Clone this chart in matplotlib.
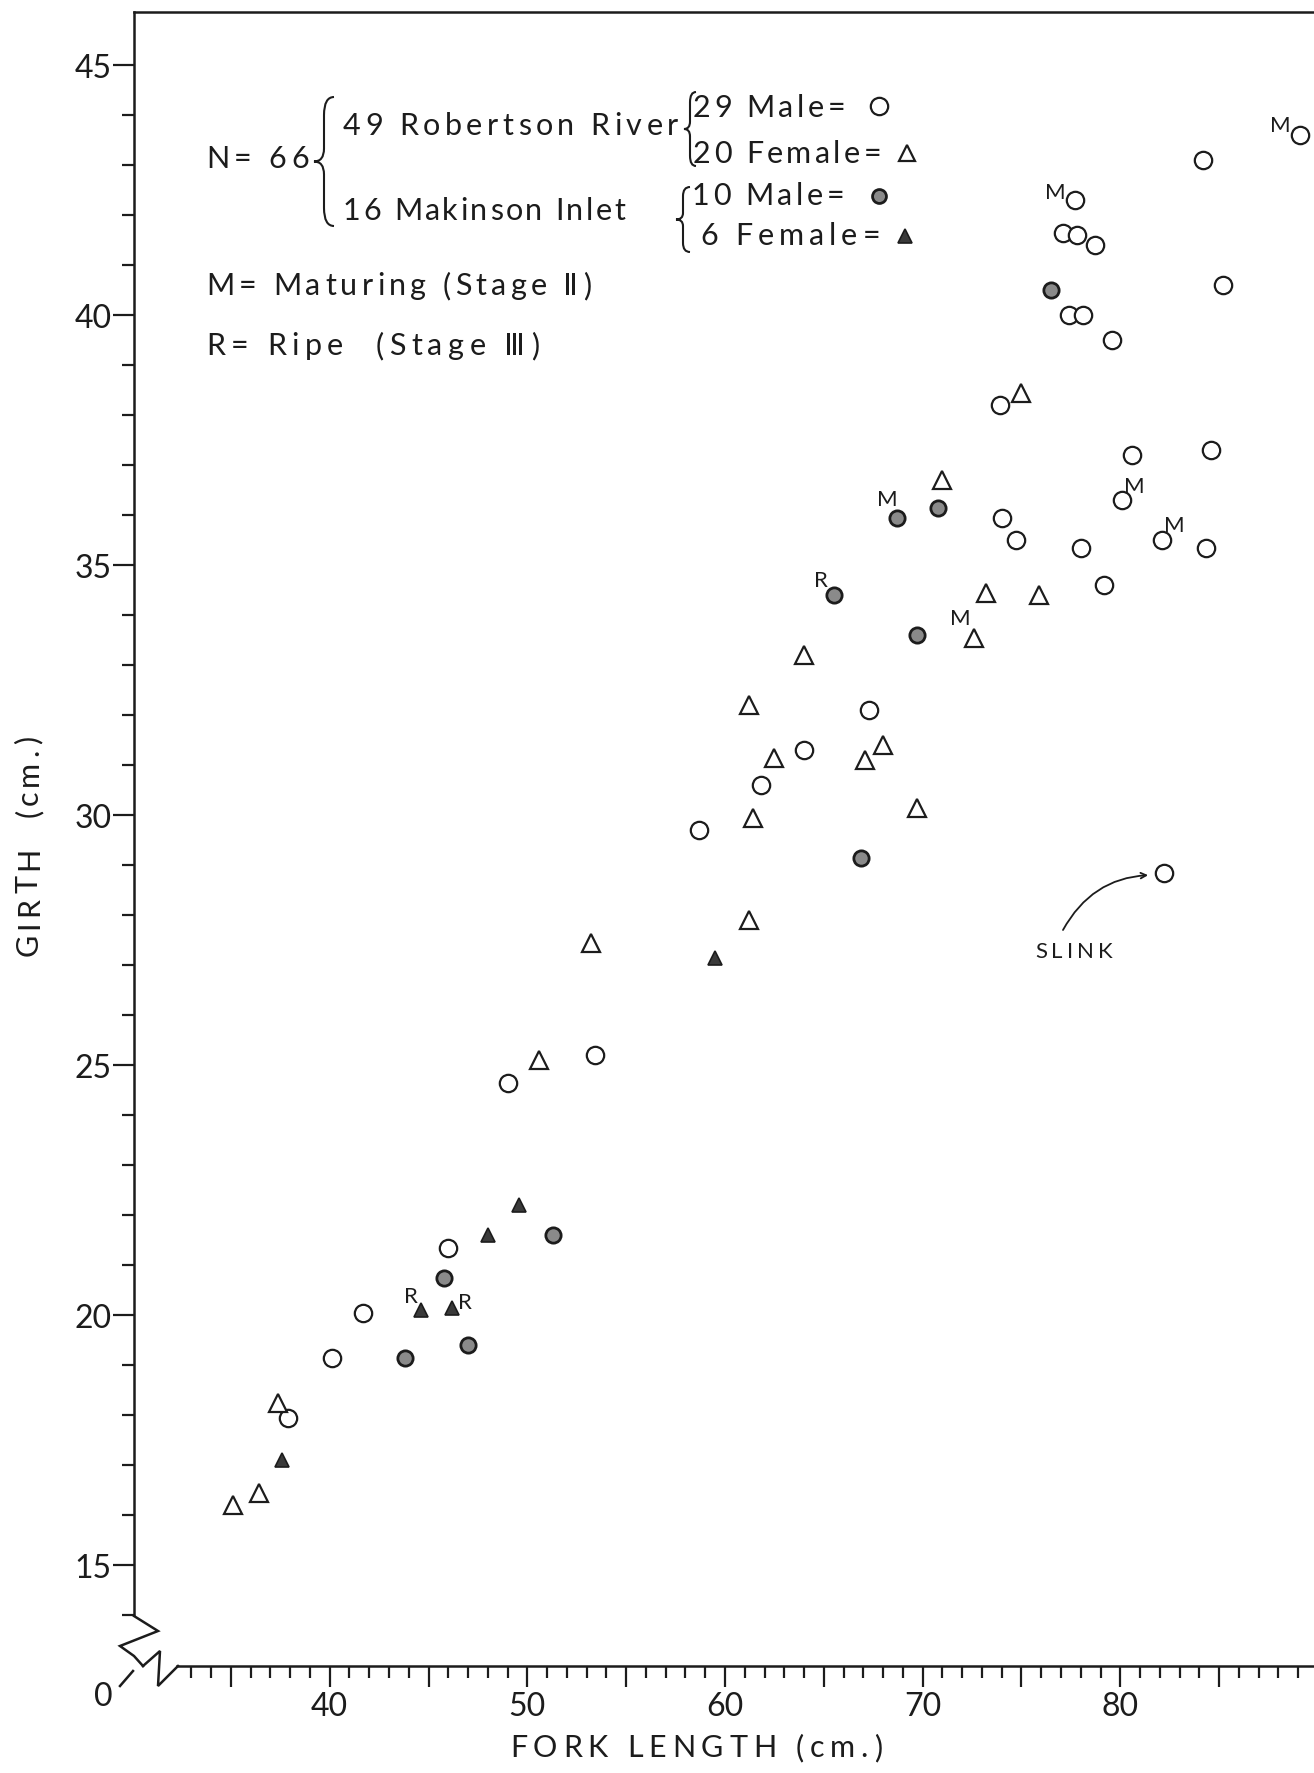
import matplotlib.pyplot as plt
import numpy as np
from matplotlib.path import Path
from matplotlib.patches import PathPatch
from matplotlib.lines import Line2D
from matplotlib.ticker import FixedLocator, FuncFormatter

# Robertson River, males (open circle)
rr_male_len = [89.1, 84.2, 77.7, 77.1, 77.8, 78.7, 85.2, 77.4, 78.1, 79.6,
               73.9, 80.6, 84.6, 74.0, 74.7, 78.0, 80.1, 82.1, 84.35, 79.2,
               67.3, 64.0, 61.8, 58.7, 82.2, 53.4, 49.0, 46.0, 41.7, 40.1, 37.9]
rr_male_girth = [43.6, 43.1, 42.3, 41.65, 41.6, 41.4, 40.6, 40.0, 40.0, 39.5,
                 38.2, 37.2, 37.3, 35.95, 35.5, 35.35, 36.3, 35.5, 35.35, 34.6,
                 32.1, 31.3, 30.6, 29.7, 28.85, 25.2, 24.65, 21.35, 20.05, 19.15, 17.95]

# Robertson River, females (open triangle)
rr_fem_len = [75.0, 71.0, 73.2, 75.9, 72.6, 64.0, 61.2, 62.5, 67.1, 68.0,
              61.4, 69.7, 61.2, 53.2, 50.6, 37.4, 36.4, 35.1]
rr_fem_girth = [38.45, 36.7, 34.45, 34.4, 33.55, 33.2, 32.2, 31.15, 31.1, 31.4,
                29.95, 30.15, 27.9, 27.45, 25.1, 18.25, 16.45, 16.2]

# Makinson Inlet, males (shaded circle)
mi_male_len = [76.5, 68.7, 70.8, 65.5, 69.7, 66.9, 51.3, 45.8, 47.0, 43.8]
mi_male_girth = [40.5, 35.95, 36.15, 34.4, 33.6, 29.15, 21.6, 20.75, 19.4, 19.15]

# Makinson Inlet, females (filled triangle)
mi_fem_len = [59.5, 49.6, 48.0, 44.6, 46.2, 37.6]
mi_fem_girth = [27.15, 22.2, 21.6, 20.1, 20.15, 17.1]

# maturity stage tags
tag_len = [89.1, 77.7, 68.7, 80.1, 82.1, 72.6, 65.5, 44.6, 46.2]
tag_girth = [43.6, 42.3, 35.95, 36.3, 35.5, 33.55, 34.4, 20.1, 20.15]
tag_text = ["M", "M", "M", "M", "M", "M", "R", "R", "R"]

slink_len, slink_girth = 82.2, 28.85

W, H = 1314, 1774
FONT = ["Lato", "DejaVu Sans"]
INK = "#1c1c1c"
plt.rcParams["font.family"] = FONT


def fxy(px, py):
    return px / W, 1 - py / H


fig = plt.figure(figsize=(W / 100, H / 100), dpi=100)
fig.patch.set_facecolor("white")
renderer = fig.canvas.get_renderer()


def text_w(s, size):
    t = fig.text(0, 0, s + "|", fontsize=size)
    wb = t.get_window_extent(renderer).width
    t.remove()
    return wb


def spaced(px, py, s, width, size=22, vertical=False):
    # lettering-guide style text: stretch letter spacing to fill width
    bar = text_w("", size)
    adv = [text_w(s[:i], size) - bar for i in range(len(s) + 1)]
    track = (width - adv[-1]) / max(len(s) - 1, 1)
    for i, ch in enumerate(s):
        if ch == " ":
            continue
        off = adv[i] + i * track
        if vertical:
            fig.text(*fxy(px, py - off), ch, fontsize=size, color=INK, rotation=90,
                     rotation_mode="anchor", ha="left", va="baseline")
        else:
            fig.text(*fxy(px + off, py), ch, fontsize=size, color=INK,
                     ha="left", va="baseline")


ax = fig.add_axes([134 / W, 1 - 1667 / H, 1 - 134 / W, (1667 - 13) / H])
ax.set_xlim(30.1, 89.8)
ax.set_ylim(12.98, 46.06)

ax.plot(rr_male_len, rr_male_girth, "o", ms=12.5, mfc="white", mec=INK, mew=1.6, ls="none")
ax.plot(rr_fem_len, rr_fem_girth, "^", ms=12.5, mfc="white", mec=INK, mew=1.6, ls="none")
ax.plot(mi_male_len, mi_male_girth, "o", ms=11, mfc="#8a8a8a", mec=INK, mew=2.0, ls="none")
ax.plot(mi_fem_len, mi_fem_girth, "^", ms=10.5, mfc="#3a3a3a", mec=INK, mew=1.2, ls="none")

tag_offsets = [(-14, 7), (-14, 6), (-7, 13), (9, 10), (9, 11), (-10, 14), (-9, 11), (-7, 10), (9, 4)]
for x, y, t, off in zip(tag_len, tag_girth, tag_text, tag_offsets):
    ax.annotate(t, (x, y), xytext=off, textcoords="offset points",
                ha="center", va="center", fontsize=16, color=INK)

ax.annotate("", (slink_len - 0.3, slink_girth - 0.05), xytext=(77.1, 27.7),
            arrowprops=dict(arrowstyle="->", color=INK, lw=1.3,
                            shrinkA=0, shrinkB=7,
                            connectionstyle="arc3,rad=-0.3"))
spaced(1035, 958, "SLINK", 78, size=16)

# axes frame
ax.spines["right"].set_visible(False)
for s in ["top", "left", "bottom"]:
    ax.spines[s].set_linewidth(1.8)
    ax.spines[s].set_color(INK)
ax.spines["left"].set_bounds(14, 46.06)
ax.spines["bottom"].set_bounds(32.3, 89.8)

ax.xaxis.set_major_locator(FixedLocator(range(35, 90, 5)))
ax.xaxis.set_minor_locator(FixedLocator(range(33, 90)))
ax.yaxis.set_major_locator(FixedLocator(range(15, 46, 5)))
ax.yaxis.set_minor_locator(FixedLocator(range(14, 46)))
ax.xaxis.set_major_formatter(FuncFormatter(lambda v, p: f"{int(v)}" if int(v) % 10 == 0 else ""))
ax.tick_params(axis="both", which="major", length=15, width=1.6, color=INK,
               labelsize=23, labelcolor=INK)
ax.tick_params(axis="both", which="minor", length=8.5, width=1.6, color=INK)
ax.tick_params(axis="x", which="major", pad=3)
ax.tick_params(axis="y", which="major", pad=1)

# axis breaks
brk = dict(color=INK, lw=1.8, solid_joinstyle="miter")
for pts in ([(134, 1617), (158, 1632), (120, 1647), (134, 1657), (143, 1667)],
            [(143, 1667), (160, 1652), (158, 1687), (178, 1667)],
            [(120, 1687), (133, 1672)]):
    xs, ys = zip(*[fxy(*p) for p in pts])
    fig.add_artist(Line2D(xs, ys, transform=fig.transFigure, **brk))
fig.text(*fxy(103, 1697), "0", fontsize=23, color=INK, ha="center", va="center")

spaced(510, 1757, "FORK LENGTH (cm.)", 372, size=22)
spaced(38, 956, "GIRTH  (cm.)", 220, size=22, vertical=True)


def brace(x0, y0, y1, w):
    ym = (y0 + y1) / 2
    h = y1 - y0
    pts = [(x0 + w, y0), (x0 + w / 2, y0), (x0 + w / 2, y0 + h * 0.14),
           (x0 + w / 2, ym - h * 0.1), (x0 + w / 2, ym), (x0, ym),
           (x0 + w / 2, ym), (x0 + w / 2, ym + h * 0.1),
           (x0 + w / 2, y1 - h * 0.14), (x0 + w / 2, y1), (x0 + w, y1)]
    codes = [Path.MOVETO, Path.CURVE3, Path.CURVE3, Path.LINETO, Path.CURVE3, Path.CURVE3,
             Path.CURVE3, Path.CURVE3, Path.LINETO, Path.CURVE3, Path.CURVE3]
    path = Path([fxy(*p) for p in pts], codes)
    fig.add_artist(PathPatch(path, fc="none", ec=INK, lw=1.5, transform=fig.transFigure))


spaced(206, 168, "N= 66", 103)
brace(314, 98, 227, 20)
spaced(343, 135, "49 Robertson River", 335)
spaced(343, 220, "16 Makinson Inlet", 282)
brace(684, 93, 167, 12)
spaced(693, 117, "29 Male=", 152)
spaced(693, 163, "20 Female=", 188)
brace(676, 188, 253, 14)
spaced(692, 205, "10 Male=", 152)
spaced(700, 245, "6 Female=", 180)
spaced(206, 295, "M= Maturing (Stage Ⅱ)", 385)
spaced(206, 355, "R= Ripe  (Stage Ⅲ)", 333)

# legend keys
keys = [((879, 107), "o", 12.5, "white", 1.6),
        ((907, 154), "^", 12, "white", 1.6),
        ((879, 197), "o", 10, "#8a8a8a", 2.0),
        ((905, 237), "^", 10, "#3a3a3a", 1.2)]
for (px, py), m, ms, fc, mw in keys:
    fx, fy = fxy(px, py)
    fig.add_artist(Line2D([fx], [fy], marker=m, ms=ms, mfc=fc, mec=INK, mew=mw,
                          ls="none", transform=fig.transFigure))

fig.savefig("out.png", dpi=100, facecolor="white")
